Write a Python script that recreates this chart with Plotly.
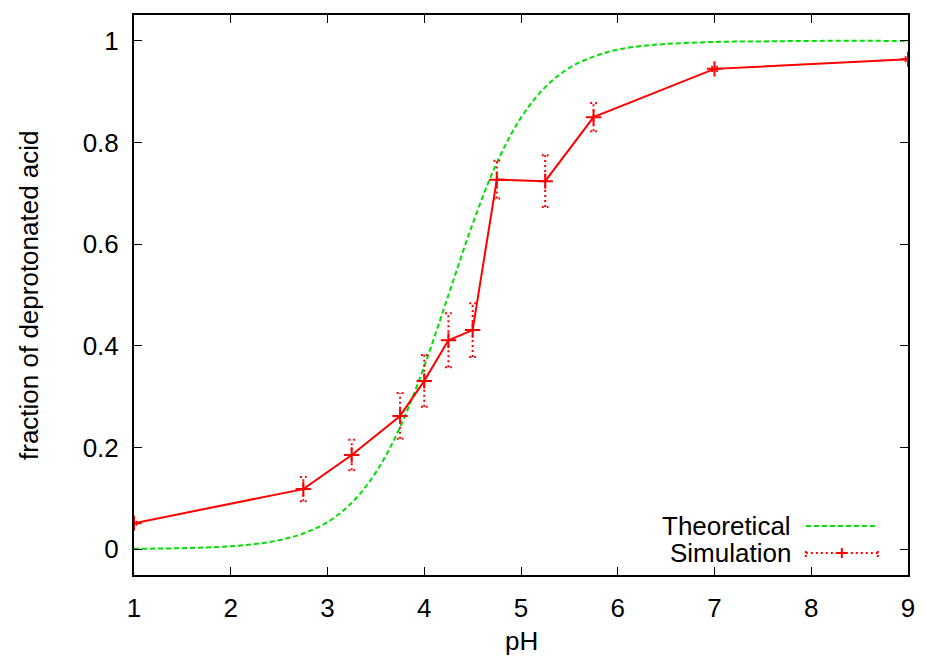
import plotly.graph_objects as go

# ---- data ----
ph_theory = [1.0, 1.25, 1.5, 1.75, 2.0, 2.25, 2.5, 2.75, 3.0, 3.25, 3.5, 3.75, 4.0, 4.25,
             4.5, 4.75, 5.0, 5.25, 5.5, 5.75, 6.0, 6.25, 6.5, 7.0, 7.5, 8.0, 9.0]
frac_theory = [0.0006, 0.001, 0.0018, 0.0032, 0.0056, 0.0099, 0.0175, 0.0307, 0.053, 0.091,
               0.151, 0.240, 0.360, 0.500, 0.640, 0.760, 0.849, 0.909, 0.947, 0.969, 0.983,
               0.990, 0.994, 0.998, 0.999, 1.0, 1.0]

ph_sim = [1.0, 2.75, 3.25, 3.75, 4.0, 4.25, 4.5, 4.75, 5.25, 5.75, 7.0, 9.0]
frac_sim = [0.051, 0.118, 0.185, 0.262, 0.331, 0.411, 0.431, 0.727, 0.724, 0.850, 0.945, 0.964]
err_sim = [0.003, 0.024, 0.030, 0.045, 0.051, 0.053, 0.053, 0.037, 0.051, 0.028, 0.004, 0.004]

x_ticks = [1, 2, 3, 4, 5, 6, 7, 8, 9]
y_ticks = [0, 0.2, 0.4, 0.6, 0.8, 1]
y_ticklabels = ["0", "0.2", "0.4", "0.6", "0.8", "1"]

GREEN = "#00e000"
RED = "#ff0000"
FONT = "Liberation Sans, Arial, sans-serif"
FS = 26
CAP = 0.035  # half-width of error-bar caps in pH units

# build dotted error bar paths from data
ex, ey = [], []
for x, y, e in zip(ph_sim, frac_sim, err_sim):
    ex += [x, x, None, x - CAP, x + CAP, None, x - CAP, x + CAP, None]
    ey += [y - e, y + e, None, y + e, y + e, None, y - e, y - e, None]

fig = go.Figure()
fig.add_trace(go.Scatter(x=ph_theory, y=frac_theory, mode="lines", line_shape="spline",
                         line=dict(color=GREEN, width=2, dash="5px,3px"),
                         showlegend=False, hoverinfo="skip"))
fig.add_trace(go.Scatter(x=ex, y=ey, mode="lines",
                         line=dict(color=RED, width=2, dash="2px,3px"),
                         showlegend=False, hoverinfo="skip"))
fig.add_trace(go.Scatter(x=ph_sim, y=frac_sim, mode="lines+markers",
                         line=dict(color=RED, width=2),
                         marker=dict(symbol="cross-thin", size=11,
                                     line=dict(color=RED, width=2)),
                         showlegend=False))

axis_common = dict(showline=True, linecolor="black", linewidth=2, mirror="allticks",
                   ticks="inside", ticklen=8, tickwidth=1, tickcolor="black",
                   showgrid=False, zeroline=False,
                   tickfont=dict(family=FONT, size=FS, color="black"))

fig.update_xaxes(range=[1, 9], tickvals=x_ticks, ticktext=[str(v) for v in x_ticks],
                 ticklabelstandoff=9, **axis_common)
fig.update_yaxes(range=[-0.051, 1.051], tickvals=y_ticks, ticktext=y_ticklabels,
                 ticklabelstandoff=8, **axis_common)

annotations = [
    dict(text="pH", xref="paper", yref="paper", x=0.5, y=0, yshift=-66,
         xanchor="center", yanchor="middle", showarrow=False,
         font=dict(family=FONT, size=FS, color="black")),
    dict(text="fraction of deprotonated acid", xref="paper", yref="paper", x=0, y=0.5,
         xshift=-105, xanchor="center", yanchor="middle", textangle=-90, showarrow=False,
         font=dict(family=FONT, size=FS, color="black")),
    dict(text="Theoretical", xref="paper", yref="paper", x=0.8434, y=0.0875, xshift=6,
         xanchor="right", yanchor="middle", showarrow=False,
         font=dict(family=FONT, size=FS, color="black")),
    dict(text="Simulation", xref="paper", yref="paper", x=0.8434, y=0.0393, xshift=6,
         xanchor="right", yanchor="middle", showarrow=False,
         font=dict(family=FONT, size=FS, color="black")),
]

lx0, lx1, lxm = 0.868, 0.961, 0.9145
shapes = [
    dict(type="line", xref="paper", yref="paper", x0=lx0, x1=lx1, y0=0.0875, y1=0.0875,
         line=dict(color=GREEN, width=2, dash="5px,3px")),
    dict(type="line", xref="paper", yref="paper", x0=lx0, x1=lx1, y0=0.0393, y1=0.0393,
         line=dict(color=RED, width=2, dash="2px,3px")),
    dict(type="line", xref="paper", yref="paper", x0=lx0, x1=lx0, y0=0.0323, y1=0.0463,
         line=dict(color=RED, width=2, dash="2px,2px")),
    dict(type="line", xref="paper", yref="paper", x0=lx1, x1=lx1, y0=0.0323, y1=0.0463,
         line=dict(color=RED, width=2, dash="2px,2px")),
    dict(type="line", xref="paper", yref="paper", x0=lxm - 0.0065, x1=lxm + 0.0065,
         y0=0.0393, y1=0.0393, line=dict(color=RED, width=2)),
    dict(type="line", xref="paper", yref="paper", x0=lxm, x1=lxm, y0=0.0303, y1=0.0483,
         line=dict(color=RED, width=2)),
]

fig.update_layout(width=927, height=658, margin=dict(l=134, r=14, t=15, b=83),
                  plot_bgcolor="white", paper_bgcolor="white",
                  font=dict(family=FONT, size=FS, color="black"),
                  annotations=annotations, shapes=shapes, showlegend=False)

fig.write_html("out.html")
